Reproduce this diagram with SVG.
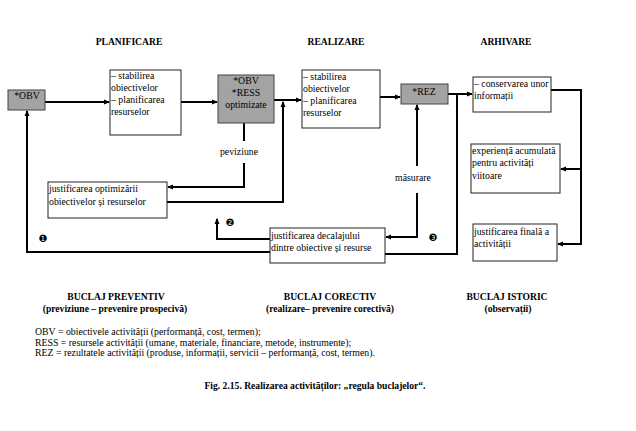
<svg xmlns="http://www.w3.org/2000/svg" width="636" height="431" viewBox="0 0 636 431" font-family="'Liberation Serif', 'Times New Roman', serif">
<style>
text{font-family:'Liberation Serif','Times New Roman',serif;fill:#000}
.h{font-size:9.6px;font-weight:bold;text-anchor:middle}
.t{font-size:9.8px}
.c{text-anchor:middle}
.box{fill:#fff;stroke:#222;stroke-width:1}
.gbox{fill:#a3a3a3;stroke:#444;stroke-width:1}
.ln{fill:none;stroke:#000;stroke-width:2}
.num{font-family:'DejaVu Sans',sans-serif;font-size:10px;text-anchor:middle}
</style>
<defs>
<marker id="ar" markerWidth="6" markerHeight="6" refX="5" refY="3" orient="auto" markerUnits="userSpaceOnUse">
<path d="M0,0.5 L6,3 L0,5.5 Z" fill="#000"/>
</marker>
</defs>
<rect width="636" height="431" fill="#fff"/>

<text class="h" x="129" y="45">PLANIFICARE</text>
<text class="h" x="336" y="45">REALIZARE</text>
<text class="h" x="506" y="45">ARHIVARE</text>

<g id="connectors">
<path class="ln" d="M45,102 H109" marker-end="url(#ar)"/>
<path class="ln" d="M181,102 H217" marker-end="url(#ar)"/>
<path class="ln" d="M274,100 H301" marker-end="url(#ar)"/>
<path class="ln" d="M380,97 H400" marker-end="url(#ar)"/>
<path class="ln" d="M448,94 H472" marker-end="url(#ar)"/>
<path class="ln" d="M551,90 H581 V244 H558" marker-end="url(#ar)"/>
<path class="ln" d="M581,169 H561" marker-end="url(#ar)"/>
<path class="ln" d="M244,123 V141"/>
<path class="ln" d="M244,163 V187 H168" marker-end="url(#ar)"/>
<path class="ln" d="M167,202 H283 V102" marker-end="url(#ar)"/>
<path class="ln" d="M417,166 V105" marker-end="url(#ar)"/>
<path class="ln" d="M417,193 V237 H386" marker-end="url(#ar)"/>
<path class="ln" d="M385,254 H457 V94"/>
<path class="ln" d="M270,239 H217 V219" marker-end="url(#ar)"/>
<path class="ln" d="M270,252 H27 V111" marker-end="url(#ar)"/>
</g>

<g id="obv">
<rect class="gbox" x="8" y="90" width="37" height="20"/>
<text class="t c" x="27" y="99">*OBV</text>
</g>
<g id="plan">
<rect class="box" x="110" y="70" width="71" height="65"/>
<text class="t" x="111" y="79">– stabilirea</text>
<text class="t" x="111" y="91">obiectivelor</text>
<text class="t" x="111" y="103">– planificarea</text>
<text class="t" x="111" y="115">resurselor</text>
</g>
<g id="optim">
<rect class="gbox" x="218" y="75" width="56" height="48"/>
<text class="t c" x="246" y="84">*OBV</text>
<text class="t c" x="246" y="96">*RESS</text>
<text class="t c" x="246" y="108">optimizate</text>
</g>
<g id="real">
<rect class="box" x="302" y="70" width="78" height="58"/>
<text class="t" x="303" y="80">– stabilirea</text>
<text class="t" x="303" y="92">obiectivelor</text>
<text class="t" x="303" y="104">– planificarea</text>
<text class="t" x="303" y="116">resurselor</text>
</g>
<g id="rez">
<rect class="gbox" x="401" y="84" width="47" height="20"/>
<text class="t c" x="424" y="95">*REZ</text>
</g>
<g id="arh">
<rect class="box" x="473" y="77" width="78" height="35"/>
<text class="t" x="474" y="87">– conservarea unor</text>
<text class="t" x="474" y="99">informații</text>
</g>
<g id="exp">
<rect class="box" x="471" y="144" width="89" height="49"/>
<text class="t" x="472" y="154">experiență acumulată</text>
<text class="t" x="472" y="166">pentru activități</text>
<text class="t" x="472" y="179">viitoare</text>
</g>
<g id="finala">
<rect class="box" x="473" y="224" width="84" height="37"/>
<text class="t" x="474" y="235">justificarea finală a</text>
<text class="t" x="474" y="247">activității</text>
</g>
<g id="jopt">
<rect class="box" x="48" y="182" width="119" height="36"/>
<text class="t" x="49" y="192">justificarea optimizării</text>
<text class="t" x="49" y="205">obiectivelor și resurselor</text>
</g>
<g id="jdec">
<rect class="box" x="270" y="228" width="115" height="35"/>
<text class="t" x="271" y="239">justificarea decalajului</text>
<text class="t" x="271" y="251">dintre obiective și resurse</text>
</g>

<text class="t c" x="239" y="155">peviziune</text>
<text class="t c" x="413" y="181">măsurare</text>
<text class="num" x="43" y="242">❶</text>
<text class="num" x="230" y="226">❷</text>
<text class="num" x="433" y="241">❸</text>

<text class="h" x="116" y="300">BUCLAJ PREVENTIV</text>
<text class="h" x="115" y="312">(previziune – prevenire prospecivă)</text>
<text class="h" x="330" y="300">BUCLAJ CORECTIV</text>
<text class="h" x="330" y="312">(realizare– prevenire corectivă)</text>
<text class="h" x="507" y="300">BUCLAJ ISTORIC</text>
<text class="h" x="508" y="312">(observații)</text>

<text class="t" x="35" y="335">OBV = obiectivele activității (performanță, cost, termen);</text>
<text class="t" x="35" y="345.5">RESS = resursele activității (umane, materiale, financiare, metode, instrumente);</text>
<text class="t" x="35" y="356">REZ = rezultatele activității (produse, informații, servicii – performanță, cost, termen).</text>

<text class="h" x="315" y="389">Fig. 2.15. Realizarea activităților: „regula buclajelor“.</text>
</svg>
